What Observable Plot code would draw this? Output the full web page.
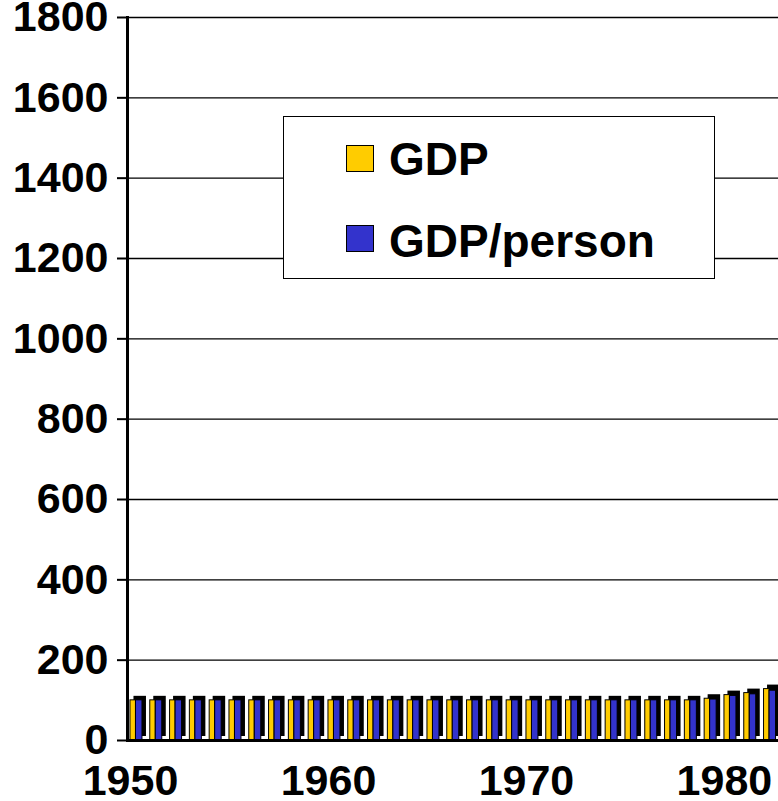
<!DOCTYPE html>
<html><head><meta charset="utf-8">
<script src="https://cdn.jsdelivr.net/npm/d3@7"></script>
<script src="https://cdn.jsdelivr.net/npm/@observablehq/plot@0.6"></script>
<style>
html,body{margin:0;padding:0;background:#fff;}
#wrap{position:relative;width:778px;height:801px;overflow:hidden;font-family:"Liberation Sans",Arial,sans-serif;}
#wrap svg text{font-weight:bold;}
#legend{position:absolute;left:283px;top:116px;width:432px;height:163px;box-sizing:border-box;border:1.5px solid #000;background:#fff;}
.sw{position:absolute;left:62px;width:28px;height:27px;box-sizing:border-box;border:1.5px solid #000;}
.lb{position:absolute;left:105px;font-size:46px;font-weight:bold;line-height:46px;white-space:nowrap;color:#000;}
</style></head><body><div id="wrap"></div>
<script>
const years = [1950,1951,1952,1953,1954,1955,1956,1957,1958,1959,1960,1961,1962,1963,1964,1965,1966,1967,1968,1969,1970,1971,1972,1973,1974,1975,1976,1977,1978,1979,1980,1981,1982];
const gdp = [100,100,100,100,100,100,100,100,100,100,100,100,100,100,100,100,100,100,100,100,100,100,100,100,100,100,100,100,100,104,113,118,128];
const gdpPerson = [100,100,100,100,100,100,100,100,100,100,100,100,100,100,100,100,100,100,100,100,100,100,100,100,100,100,100,100,100,102,111,115,124];
const seriesNames = ["GDP", "GDP/person"];
const seriesColors = ["#FFCC00", "#3333CC"];
const yTicks = [0,200,400,600,800,1000,1200,1400,1600,1800];
const xTicks = [1950,1960,1970,1980];

const rows = years.map((year, i) => ({year, gdp: gdp[i], gdpPerson: gdpPerson[i]}));

const chart = Plot.plot({
  width: 778, height: 801,
  marginLeft: 127, marginRight: 0, marginTop: 17, marginBottom: 61,
  style: {fontFamily: "Liberation Sans, Arial, sans-serif", background: "#fff"},
  x: {type: "linear", domain: [1949.85, 1982.73], label: null},
  y: {domain: [0, 1800], label: null},
  marks: [
    Plot.ruleY(yTicks.filter(d => d > 0), {stroke: "#000", strokeWidth: 1.3}),
    Plot.rect(rows, {x1: "year", x2: d => d.year + 1, y1: () => 0, y2: d => Math.max(d.gdp, d.gdpPerson), fill: "#000", insetLeft: 3.5, insetRight: 3.8, dy: -4}),
    Plot.rect(rows, {x1: "year", x2: d => d.year + 1, y1: () => 0, y2: "gdp", fill: seriesColors[0], stroke: "#000", strokeWidth: 1, insetLeft: 0, insetRight: 14.3}),
    Plot.rect(rows, {x1: "year", x2: d => d.year + 1, y1: () => 0, y2: "gdpPerson", fill: seriesColors[1], stroke: "#000", strokeWidth: 1, insetLeft: 5.5, insetRight: 7.8}),
    Plot.ruleY([0], {stroke: "#000", strokeWidth: 3}),
    Plot.frame({anchor: "left", stroke: "#000", strokeWidth: 3}),
    Plot.axisY({ticks: yTicks, label: null, tickSize: 10, tickPadding: 9, tickFormat: d => String(d), fontSize: 43, fontWeight: "bold", strokeWidth: 2, fill: "#000", color: "#000"}),
    Plot.axisX({ticks: xTicks, label: null, tickSize: 0, tickPadding: 24, tickFormat: d => String(d), fontSize: 43, fontWeight: "bold", fill: "#000"})
  ]
});

const wrap = document.getElementById("wrap");
wrap.appendChild(chart);

const legend = document.createElement("div");
legend.id = "legend";
const swTops = [28, 108];
const lbTops = [19, 101];
seriesNames.forEach((name, i) => {
  const sw = document.createElement("div");
  sw.className = "sw";
  sw.style.top = swTops[i] + "px";
  sw.style.background = seriesColors[i];
  legend.appendChild(sw);
  const lb = document.createElement("div");
  lb.className = "lb";
  lb.style.top = lbTops[i] + "px";
  lb.textContent = name;
  legend.appendChild(lb);
});
wrap.appendChild(legend);
</script>
</body></html>
